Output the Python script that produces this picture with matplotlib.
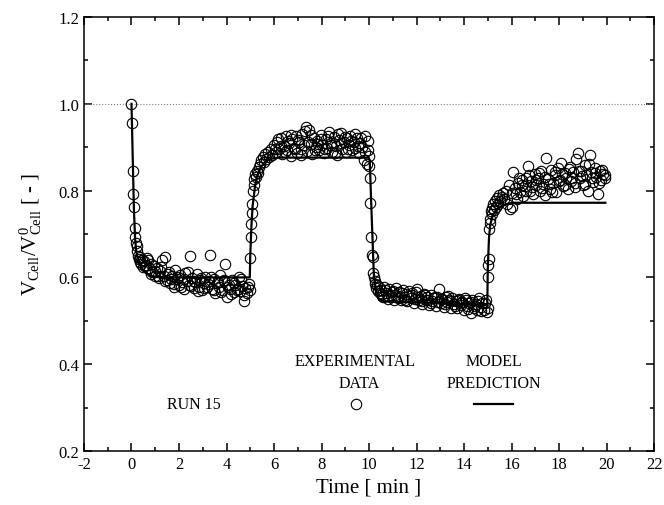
import numpy as np
import matplotlib
matplotlib.use('Agg')
from matplotlib import pyplot as plt
from matplotlib.ticker import MultipleLocator

plt.rcParams['font.family'] = ['Liberation Serif', 'DejaVu Serif']
plt.rcParams['mathtext.fontset'] = 'custom'
plt.rcParams['mathtext.rm'] = 'Liberation Serif'
plt.rcParams['mathtext.it'] = 'Liberation Serif:italic'

# experimental data, run 15 (time in min, normalized cell volume)
t_drop1 = [0.00, 0.03, 0.06, 0.08, 0.10, 0.13, 0.16, 0.19, 0.22, 0.25, 0.28, 0.31, 0.34, 0.37, 0.40, 0.44, 0.48]
v_drop1 = [1.000, 0.956, 0.845, 0.792, 0.762, 0.714, 0.694, 0.680, 0.672, 0.660, 0.650, 0.642, 0.648, 0.636, 0.630, 0.640, 0.625]

t_low1 = [0.52, 0.59, 0.66, 0.73, 0.80, 0.87, 0.94, 1.01, 1.08, 1.15, 1.22, 1.29, 1.36, 1.43, 1.50,
          1.57, 1.64, 1.71, 1.78, 1.85, 1.92, 1.99, 2.06, 2.13, 2.20, 2.27, 2.34, 2.41, 2.48, 2.55,
          2.62, 2.69, 2.76, 2.83, 2.90, 2.97, 3.04, 3.11, 3.18, 3.25, 3.32, 3.39, 3.46, 3.53, 3.60,
          3.67, 3.74, 3.81, 3.88, 3.95, 4.02, 4.09, 4.16, 4.23, 4.30, 4.37, 4.44, 4.51, 4.58, 4.65,
          4.72, 4.79, 4.86, 4.93,
          0.55, 0.69, 0.83, 0.97, 1.11, 1.25, 1.39, 1.53, 1.67, 1.81, 1.95, 2.09, 2.23, 2.37, 2.51,
          2.65, 2.79, 2.93, 3.07, 3.21, 3.35, 3.49, 3.63, 3.77, 3.91, 4.05, 4.19, 4.33, 4.47, 4.61,
          4.75, 4.89]
v_low1 = [0.638, 0.628, 0.645, 0.622, 0.632, 0.612, 0.626, 0.604, 0.621, 0.598, 0.615, 0.640, 0.603, 0.647, 0.595,
          0.612, 0.588, 0.604, 0.579, 0.618, 0.596, 0.583, 0.606, 0.590, 0.574, 0.611, 0.592, 0.582, 0.649, 0.598,
          0.576, 0.589, 0.607, 0.579, 0.594, 0.571, 0.586, 0.600, 0.578, 0.591, 0.652, 0.574, 0.596, 0.565, 0.588,
          0.579, 0.605, 0.570, 0.591, 0.630, 0.556, 0.583, 0.574, 0.595, 0.566, 0.582, 0.571, 0.602, 0.568, 0.580,
          0.546, 0.576, 0.563, 0.585,
          0.626, 0.641, 0.608, 0.615, 0.603, 0.624, 0.592, 0.609, 0.597, 0.585, 0.602, 0.578, 0.596, 0.613, 0.580,
          0.592, 0.569, 0.598, 0.575, 0.584, 0.601, 0.570, 0.589, 0.566, 0.594, 0.578, 0.562, 0.587, 0.573, 0.596,
          0.559, 0.578]

t_rise1 = [4.98, 5.00, 5.02, 5.04, 5.06, 5.08, 5.11, 5.14, 5.17, 5.20, 5.24, 5.28, 5.32, 5.37, 5.42, 5.47,
           5.52, 5.57, 5.62, 5.68, 5.74, 5.80, 5.86, 5.92]
v_rise1 = [0.572, 0.644, 0.692, 0.724, 0.748, 0.770, 0.800, 0.812, 0.826, 0.838, 0.832, 0.845, 0.840, 0.855, 0.862, 0.870,
           0.878, 0.866, 0.884, 0.872, 0.889, 0.878, 0.895, 0.882]

t_high1 = [6.00, 6.07, 6.14, 6.21, 6.28, 6.35, 6.42, 6.49, 6.56, 6.63, 6.70, 6.77, 6.84, 6.91, 6.98,
           7.05, 7.12, 7.19, 7.26, 7.33, 7.40, 7.47, 7.54, 7.61, 7.68, 7.75, 7.82, 7.89, 7.96, 8.03,
           8.10, 8.17, 8.24, 8.31, 8.38, 8.45, 8.52, 8.59, 8.66, 8.73, 8.80, 8.87, 8.94, 9.01, 9.08,
           9.15, 9.22, 9.29, 9.36, 9.43, 9.50, 9.57, 9.64, 9.71, 9.78, 9.85, 9.92, 9.96,
           6.03, 6.17, 6.31, 6.45, 6.59, 6.73, 6.87, 7.01, 7.15, 7.29, 7.43, 7.57, 7.71, 7.85, 7.99,
           8.13, 8.27, 8.41, 8.55, 8.69, 8.83, 8.97, 9.11, 9.25, 9.39, 9.53, 9.67, 9.81, 9.95]
v_high1 = [0.905, 0.888, 0.912, 0.896, 0.921, 0.884, 0.903, 0.926, 0.893, 0.910, 0.880, 0.918, 0.899, 0.925, 0.887,
           0.912, 0.896, 0.930, 0.905, 0.946, 0.892, 0.940, 0.908, 0.884, 0.921, 0.900, 0.914, 0.893, 0.928, 0.906,
           0.887, 0.919, 0.898, 0.936, 0.909, 0.890, 0.924, 0.903, 0.882, 0.916, 0.932, 0.897, 0.911, 0.889, 0.921,
           0.904, 0.926, 0.893, 0.913, 0.899, 0.922, 0.886, 0.910, 0.901, 0.870, 0.925, 0.862, 0.893,
           0.897, 0.918, 0.902, 0.889, 0.914, 0.928, 0.895, 0.917, 0.881, 0.938, 0.913, 0.929, 0.894, 0.908, 0.919,
           0.897, 0.925, 0.904, 0.886, 0.931, 0.909, 0.923, 0.895, 0.915, 0.930, 0.902, 0.921, 0.889, 0.915]

t_drop2 = [9.98, 10.00, 10.03, 10.06, 10.09, 10.12, 10.15, 10.18, 10.21, 10.24, 10.27, 10.30, 10.34, 10.38, 10.42, 10.46]
v_drop2 = [0.856, 0.880, 0.828, 0.772, 0.692, 0.652, 0.648, 0.610, 0.600, 0.592, 0.585, 0.576, 0.583, 0.569, 0.578, 0.565]

t_low2 = [10.50, 10.57, 10.64, 10.71, 10.78, 10.85, 10.92, 10.99, 11.06, 11.13, 11.20, 11.27, 11.34, 11.41, 11.48,
          11.55, 11.62, 11.69, 11.76, 11.83, 11.90, 11.97, 12.04, 12.11, 12.18, 12.25, 12.32, 12.39, 12.46, 12.53,
          12.60, 12.67, 12.74, 12.81, 12.88, 12.95, 13.02, 13.09, 13.16, 13.23, 13.30, 13.37, 13.44, 13.51, 13.58,
          13.65, 13.72, 13.79, 13.86, 13.93, 14.00, 14.07, 14.14, 14.21, 14.28, 14.35, 14.42, 14.49, 14.56, 14.63,
          14.70, 14.77, 14.84, 14.91, 14.96,
          10.53, 10.67, 10.81, 10.95, 11.09, 11.23, 11.37, 11.51, 11.65, 11.79, 11.93, 12.07, 12.21, 12.35, 12.49,
          12.63, 12.77, 12.91, 13.05, 13.19, 13.33, 13.47, 13.61, 13.75, 13.89, 14.03, 14.17, 14.31, 14.45, 14.59,
          14.73, 14.87]
v_low2 = [0.571, 0.556, 0.579, 0.563, 0.551, 0.574, 0.560, 0.568, 0.549, 0.575, 0.558, 0.566, 0.547, 0.570, 0.555,
          0.562, 0.545, 0.568, 0.552, 0.559, 0.541, 0.566, 0.573, 0.549, 0.557, 0.539, 0.562, 0.548, 0.555, 0.537,
          0.559, 0.546, 0.553, 0.535, 0.556, 0.574, 0.541, 0.550, 0.532, 0.555, 0.543, 0.548, 0.530, 0.552, 0.538,
          0.546, 0.529, 0.551, 0.536, 0.544, 0.526, 0.549, 0.533, 0.541, 0.518, 0.547, 0.530, 0.539, 0.524, 0.553,
          0.531, 0.542, 0.526, 0.548, 0.521,
          0.562, 0.572, 0.557, 0.566, 0.560, 0.552, 0.564, 0.547, 0.558, 0.563, 0.551, 0.556, 0.545, 0.560, 0.549,
          0.541, 0.555, 0.544, 0.551, 0.538, 0.557, 0.545, 0.533, 0.548, 0.540, 0.552, 0.528, 0.543, 0.535, 0.546,
          0.522, 0.540]

t_rise2 = [14.99, 15.00, 15.02, 15.04, 15.06, 15.08, 15.10, 15.13, 15.16, 15.19, 15.22, 15.26, 15.30, 15.34, 15.38,
           15.43, 15.48, 15.53, 15.58, 15.64, 15.70, 15.76, 15.82, 15.88, 15.94]
v_rise2 = [0.530, 0.600, 0.628, 0.642, 0.712, 0.726, 0.735, 0.752, 0.760, 0.745, 0.768, 0.756, 0.775, 0.762, 0.782,
           0.770, 0.790, 0.776, 0.785, 0.795, 0.780, 0.800, 0.768, 0.812, 0.758]

t_high2 = [16.00, 16.07, 16.14, 16.21, 16.28, 16.35, 16.42, 16.49, 16.56, 16.63, 16.70, 16.77, 16.84, 16.91, 16.98,
           17.05, 17.12, 17.19, 17.26, 17.33, 17.40, 17.47, 17.54, 17.61, 17.68, 17.75, 17.82, 17.89, 17.96, 18.03,
           18.10, 18.17, 18.24, 18.31, 18.38, 18.45, 18.52, 18.59, 18.66, 18.73, 18.80, 18.87, 18.94, 19.01, 19.08,
           19.15, 19.22, 19.29, 19.36, 19.43, 19.50, 19.57, 19.64, 19.71, 19.78, 19.85, 19.92,
           16.03, 16.17, 16.31, 16.45, 16.59, 16.73, 16.87, 17.01, 17.15, 17.29, 17.43, 17.57, 17.71, 17.85, 17.99,
           18.13, 18.27, 18.41, 18.55, 18.69, 18.83, 18.97, 19.11, 19.25, 19.39, 19.53, 19.67, 19.81, 19.95]
v_high2 = [0.795, 0.842, 0.806, 0.781, 0.818, 0.797, 0.825, 0.788, 0.811, 0.830, 0.856, 0.800, 0.822, 0.793, 0.838,
           0.812, 0.829, 0.798, 0.845, 0.815, 0.790, 0.876, 0.826, 0.803, 0.848, 0.818, 0.836, 0.796, 0.852, 0.824,
           0.864, 0.810, 0.840, 0.830, 0.803, 0.855, 0.822, 0.843, 0.808, 0.872, 0.886, 0.828, 0.846, 0.812, 0.858,
           0.835, 0.800, 0.881, 0.842, 0.820, 0.852, 0.831, 0.793, 0.846, 0.824, 0.838, 0.829,
           0.763, 0.793, 0.828, 0.812, 0.799, 0.836, 0.808, 0.825, 0.841, 0.806, 0.832, 0.815, 0.797, 0.843, 0.821,
           0.838, 0.812, 0.850, 0.829, 0.817, 0.846, 0.833, 0.815, 0.862, 0.828, 0.840, 0.818, 0.848, 0.836]

# model prediction
t_model = [0.00, 0.05, 0.10, 0.15, 0.20, 0.30, 0.45, 0.65, 0.90, 1.20, 4.98, 5.00, 5.05, 5.10, 5.20, 5.30,
           5.45, 5.65, 5.90, 6.20, 9.98, 10.03, 10.10, 10.20, 10.30, 10.42, 10.60, 10.90, 14.98, 15.00,
           15.05, 15.10, 15.20, 15.35, 15.55, 15.80, 16.10, 19.95]
v_model = [1.000, 0.880, 0.760, 0.690, 0.660, 0.635, 0.618, 0.608, 0.602, 0.600, 0.600, 0.650, 0.720, 0.765, 0.810, 0.835,
           0.855, 0.867, 0.874, 0.876, 0.876, 0.870, 0.760, 0.610, 0.565, 0.548, 0.545, 0.544, 0.538, 0.620,
           0.690, 0.720, 0.742, 0.755, 0.763, 0.769, 0.772, 0.772]

t_exp = t_drop1 + t_low1 + t_rise1 + t_high1 + t_drop2 + t_low2 + t_rise2 + t_high2
v_exp = v_drop1 + v_low1 + v_rise1 + v_high1 + v_drop2 + v_low2 + v_rise2 + v_high2

fig = plt.figure(figsize=(6.64, 5.06), dpi=100)
ax = fig.add_axes([0.1265, 0.1067, 0.8585, 0.8577])

ax.axhline(1.0, color='gray', linestyle=':', linewidth=0.8)
ax.plot(t_exp, v_exp, linestyle='none', marker='o', markersize=7.5,
        markerfacecolor='none', markeredgecolor='black', markeredgewidth=0.8)
ax.plot(t_model, v_model, color='black', linewidth=1.6)

# key
ax.text(2.64, 0.308, 'RUN 15', ha='center', va='center', fontsize=11.5)
ax.text(9.42, 0.408, 'EXPERIMENTAL', ha='center', va='center', fontsize=11.5)
ax.text(9.6, 0.357, 'DATA', ha='center', va='center', fontsize=11.5)
ax.plot([9.44], [0.308], linestyle='none', marker='o', markersize=7.5,
        markerfacecolor='none', markeredgecolor='black', markeredgewidth=0.8)
ax.text(15.28, 0.408, 'MODEL', ha='center', va='center', fontsize=11.5)
ax.text(15.24, 0.357, 'PREDICTION', ha='center', va='center', fontsize=11.5)
ax.plot([14.4, 16.06], [0.308, 0.308], color='black', linewidth=1.6)

ax.set_xlim(-2, 22)
ax.set_ylim(0.2, 1.2)
ax.xaxis.set_major_locator(MultipleLocator(2))
ax.xaxis.set_minor_locator(MultipleLocator(1))
ax.yaxis.set_major_locator(MultipleLocator(0.2))
ax.yaxis.set_minor_locator(MultipleLocator(0.1))
ax.tick_params(which='both', direction='in', top=True, right=True, labelsize=12, width=1.1)
ax.tick_params(which='major', length=6)
ax.tick_params(which='minor', length=3)
ax.xaxis.set_major_formatter(plt.FuncFormatter(lambda v, p: '%d' % v))
ax.yaxis.set_major_formatter(plt.FuncFormatter(lambda v, p: '%.1f' % v))
for s in ax.spines.values():
    s.set_linewidth(1.1)

ax.set_xlabel('Time [ min ]', fontsize=15, labelpad=4)
ax.set_ylabel(r'V$_{\mathrm{Cell}}$/V$^{0}_{\mathrm{Cell}}$ [ - ]', fontsize=15, labelpad=10)

fig.savefig('out.png', dpi=100)
